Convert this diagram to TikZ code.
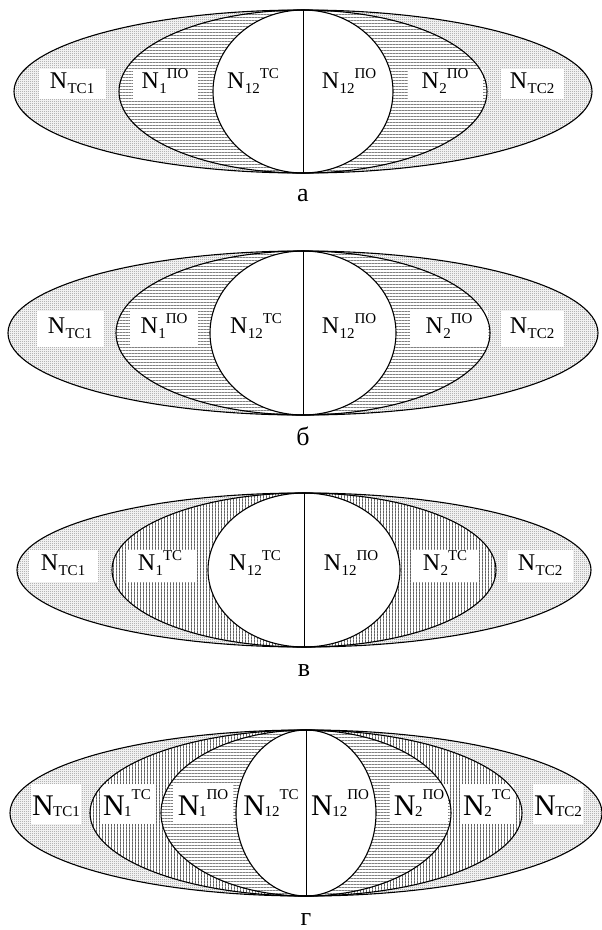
\documentclass[tikz,border=0pt]{standalone}
\usepackage{fontspec}
\setmainfont{Liberation Serif}
\usetikzlibrary{patterns}
\pgfdeclarepatternformonly{hlin}{\pgfqpoint{0pt}{0pt}}{\pgfqpoint{3pt}{3pt}}{\pgfqpoint{3pt}{3pt}}{\pgfpathrectangle{\pgfqpoint{-0.5pt}{0pt}}{\pgfqpoint{4pt}{1pt}}\pgfusepath{fill}}
\pgfdeclarepatternformonly{vlin}{\pgfqpoint{0pt}{0pt}}{\pgfqpoint{2.5pt}{2.5pt}}{\pgfqpoint{2.5pt}{2.5pt}}{\pgfpathrectangle{\pgfqpoint{0pt}{-0.5pt}}{\pgfqpoint{1.1pt}{3.5pt}}\pgfusepath{fill}}
\pgfdeclarepatternformonly{chk}{\pgfqpoint{0pt}{0pt}}{\pgfqpoint{2pt}{2pt}}{\pgfqpoint{2pt}{2pt}}{\pgfpathrectangle{\pgfqpoint{0pt}{0pt}}{\pgfqpoint{1pt}{1pt}}\pgfpathrectangle{\pgfqpoint{1pt}{1pt}}{\pgfqpoint{1pt}{1pt}}\pgfusepath{fill}}
\newcommand{\SubSz}{\fontsize{15}{15}\selectfont}
% small labels (a, b, v)
\newcommand{\Lsub}[1]{N\kern0.5pt\raisebox{-5pt}{\SubSz #1}}
\newcommand{\Lss}[2]{N\kern0.5pt\raisebox{-5pt}{\SubSz #1}\raisebox{10pt}{\SubSz #2}}
% large labels (g)
\newcommand{\Gsub}[1]{N\kern-0.5pt\raisebox{-1pt}{\SubSz #1}}
\newcommand{\Gss}[2]{N\kern-0.5pt\raisebox{-1pt}{\SubSz #1}\raisebox{16pt}{\SubSz #2}}
\tikzset{
  dotsfill/.style={pattern=chk, pattern color=black!45},
  horfill/.style={pattern=hlin, pattern color=black!50},
  verfill/.style={pattern=vlin, pattern color=black!62},
  outl/.style={draw=black, line width=1.1pt},
  labw/.style={inner sep=0pt, text height=18pt, text depth=10pt, font=\fontsize{24}{24}\selectfont},
  lab/.style={labw, fill=white, minimum width=67pt, minimum height=30pt},
  labgw/.style={inner sep=0pt, text height=30pt, text depth=8pt, font=\fontsize{30}{30}\selectfont},
  labg/.style={labgw, fill=white, minimum width=52pt, minimum height=40pt},
  captxt/.style={font=\fontsize{26}{26}\selectfont},
}
\begin{document}
\begin{tikzpicture}[x=1pt,y=-1pt]
\useasboundingbox (0,0) rectangle (602,930);
% ---------- a ----------
\begin{scope}[shift={(303,91.5)}]
  \fill[dotsfill] (0,0) ellipse [x radius=289, y radius=81.5];
  \fill[white] (0,0) ellipse [x radius=184, y radius=81.5];
  \fill[horfill] (0,0) ellipse [x radius=184, y radius=81.5];
  \fill[white] (0,0) ellipse [x radius=90, y radius=81.5];
  \coordinate (aT) at (0,-81.5);
  \coordinate (aB) at (0,81.5);
\end{scope}
\node[lab] (a1) at (72,84) {\Lsub{ТС1}};
\node[lab, minimum width=65pt] (a2) at (165,84) {\Lss{1}{ПО}};
\node[labw] (a3) at (253,84) {\Lss{12}{ТС}};
\node[labw] (a4) at (349,84) {\Lss{12}{ПО}};
\node[lab, minimum width=75pt] (a5) at (445,84) {\Lss{2}{ПО}};
\node[lab, minimum width=63pt] (a6) at (532,84) {\Lsub{ТС2}};
\begin{scope}[shift={(303,91.5)}]
  \draw[outl] (0,0) ellipse [x radius=289, y radius=81.5];
  \draw[outl] (0,0) ellipse [x radius=184, y radius=81.5];
  \draw[outl] (0,0) ellipse [x radius=90, y radius=81.5];
\end{scope}
\draw[line width=0.9pt] (aT) -- (aB);
\node[captxt] (ca) at (303,196) {а};
% ---------- b ----------
\begin{scope}[shift={(303,333)}]
  \fill[dotsfill] (0,0) ellipse [x radius=295, y radius=82];
  \fill[white] (0,0) ellipse [x radius=187, y radius=82];
  \fill[horfill] (0,0) ellipse [x radius=187, y radius=82];
  \fill[white] (0,0) ellipse [x radius=93, y radius=82];
  \coordinate (bT) at (0,-82);
  \coordinate (bB) at (0,82);
\end{scope}
\node[lab, minimum height=36pt] (b1) at (70,329) {\Lsub{ТС1}};
\node[lab, minimum height=36pt, minimum width=68pt] (b2) at (164,329) {\Lss{1}{ПО}};
\node[labw] (b3) at (256,329) {\Lss{12}{ТС}};
\node[labw] (b4) at (349,329) {\Lss{12}{ПО}};
\node[lab, minimum height=36pt, minimum width=78pt] (b5) at (449,329) {\Lss{2}{ПО}};
\node[lab, minimum height=36pt, minimum width=63pt] (b6) at (532,329) {\Lsub{ТС2}};
\begin{scope}[shift={(303,333)}]
  \draw[outl] (0,0) ellipse [x radius=295, y radius=82];
  \draw[outl] (0,0) ellipse [x radius=187, y radius=82];
  \draw[outl] (0,0) ellipse [x radius=93, y radius=82];
\end{scope}
\draw[line width=0.9pt] (bT) -- (bB);
\node[captxt] (cb) at (303,436) {б};
% ---------- v ----------
\begin{scope}[shift={(304,570)}]
  \fill[dotsfill] (0,0) ellipse [x radius=287, y radius=77];
  \fill[white] (0,0) ellipse [x radius=192, y radius=77];
  \fill[verfill] (0,0) ellipse [x radius=192, y radius=77];
  \fill[white] (0,0) ellipse [x radius=96, y radius=77];
  \coordinate (vT) at (0,-77);
  \coordinate (vB) at (0,77);
\end{scope}
\node[lab, minimum height=32pt, minimum width=69pt] (v1) at (63,566) {\Lsub{ТС1}};
\node[lab, minimum height=32pt, minimum width=69pt] (v2) at (160,566) {\Lss{1}{ТС}};
\node[labw] (v3) at (255,566) {\Lss{12}{ТС}};
\node[labw] (v4) at (351,566) {\Lss{12}{ПО}};
\node[lab, minimum height=32pt] (v5) at (445,566) {\Lss{2}{ТС}};
\node[lab, minimum height=32pt, minimum width=65pt] (v6) at (540,566) {\Lsub{ТС2}};
\begin{scope}[shift={(304,570)}]
  \draw[outl] (0,0) ellipse [x radius=287, y radius=77];
  \draw[outl] (0,0) ellipse [x radius=192, y radius=77];
  \draw[outl] (0,0) ellipse [x radius=96, y radius=77];
\end{scope}
\draw[line width=0.9pt] (vT) -- (vB);
\node[captxt] (cv) at (304,671) {в};
% ---------- g ----------
\begin{scope}[shift={(306,813)}]
  \fill[dotsfill] (0,0) ellipse [x radius=296, y radius=83];
  \fill[white] (0,0) ellipse [x radius=216, y radius=83];
  \fill[verfill] (0,0) ellipse [x radius=216, y radius=83];
  \fill[white] (0,0) ellipse [x radius=145, y radius=83];
  \fill[horfill] (0,0) ellipse [x radius=145, y radius=83];
  \fill[white] (0,0) ellipse [x radius=70, y radius=83];
  \coordinate (gT) at (0,-83);
  \coordinate (gB) at (0,83);
\end{scope}
\node[labg, minimum width=50pt] (g1) at (56,804) {\Gsub{ТС1}};
\node[labg, minimum width=53pt] (g2) at (127,804) {\Gss{1}{ТС}};
\node[labg, minimum width=60pt] (g3) at (203,804) {\Gss{1}{ПО}};
\node[labgw] (g4) at (271,804) {\Gss{12}{ТС}};
\node[labgw] (g5) at (340,804) {\Gss{12}{ПО}};
\node[labg, minimum width=58pt] (g6) at (419,804) {\Gss{2}{ПО}};
\node[labg, minimum width=53pt] (g7) at (487,804) {\Gss{2}{ТС}};
\node[labg, minimum width=50pt] (g8) at (558,804) {\Gsub{ТС2}};
\begin{scope}[shift={(306,813)}]
  \draw[outl] (0,0) ellipse [x radius=296, y radius=83];
  \draw[outl] (0,0) ellipse [x radius=216, y radius=83];
  \draw[outl] (0,0) ellipse [x radius=145, y radius=83];
  \draw[outl] (0,0) ellipse [x radius=70, y radius=83];
\end{scope}
\draw[line width=0.9pt] (gT) -- (gB);
\node[captxt] (cg) at (306,920) {г};
\end{tikzpicture}
\end{document}
